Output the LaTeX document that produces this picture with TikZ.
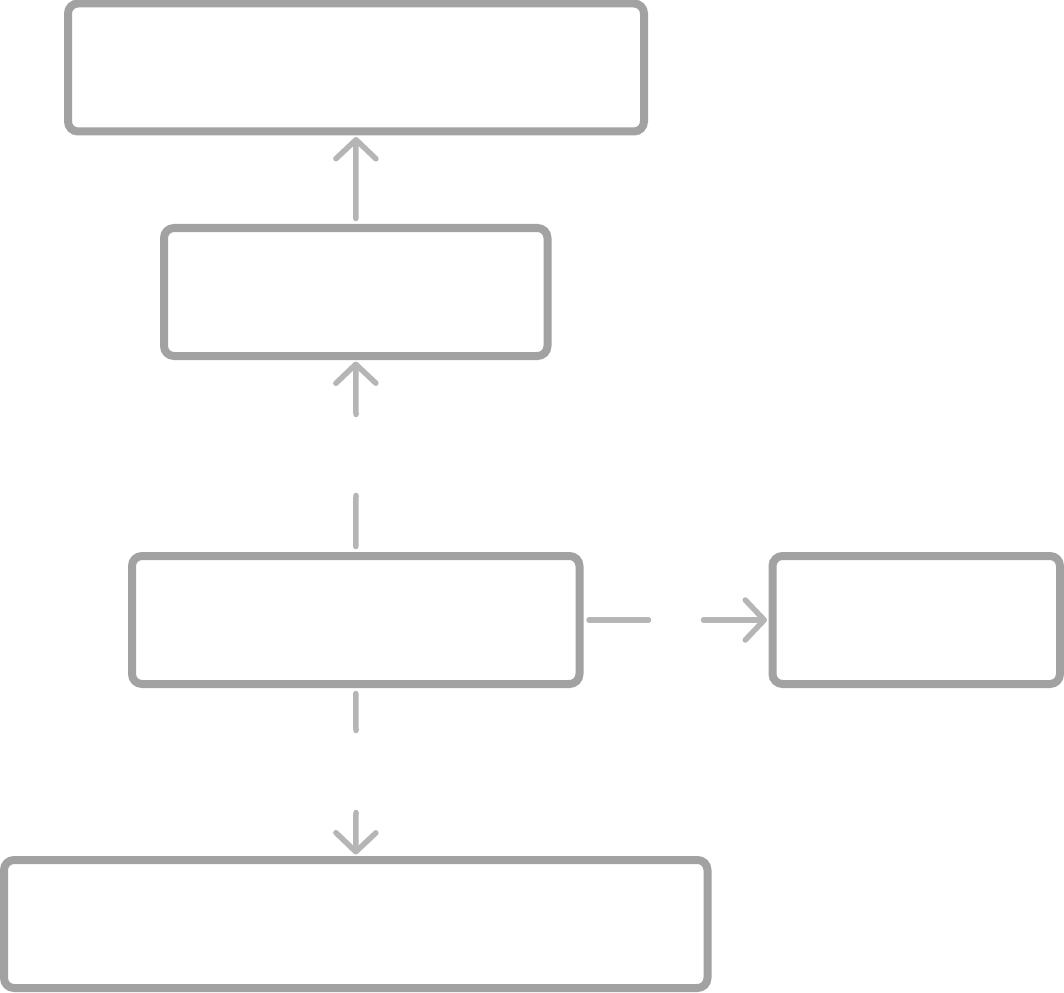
\documentclass[tikz,border=0pt]{standalone}
\usetikzlibrary{arrows.meta}
\definecolor{boxgray}{HTML}{A2A2A2}
\definecolor{linegray}{HTML}{B5B5B5}
\tikzset{
  box/.style={rectangle, rounded corners=10pt, draw=boxgray, line width=8pt, fill=white, inner sep=0pt, minimum height=128pt},
  conn/.style={draw=linegray, line width=5.5pt, line cap=round, shorten <=5.5pt},
  connarrow/.style={draw=linegray, line width=5.5pt, line cap=round, shorten >=1.5pt,
    -{Straight Barb[length=19pt, width=40pt, line cap=round, line join=round]}},
}
\begin{document}
\begin{tikzpicture}[x=1pt,y=-1pt]
\useasboundingbox (0,0) rectangle (1064,992);
\node[box, minimum width=576pt]   (a) at (356,67.5) {};
\node[box, minimum width=383.5pt] (b) at (355.75,292) {};
\node[box, minimum width=447.5pt] (c) at (355.75,620) {};
\node[box, minimum width=287.5pt] (d) at (916.25,620) {};
\node[box, minimum width=703.5pt] (e) at (355.75,924) {};
% gap ends
\coordinate (cb1) at (356,495.5);
\coordinate (cb2) at (356,414.5);
\coordinate (cd1) at (648.5,620);
\coordinate (cd2) at (703.5,620);
\coordinate (ce1) at (356,730.5);
\coordinate (ce2) at (356,812.5);
% B -> A
\draw[connarrow, shorten <=5.5pt] (b.north) -- (a.south);
% C -> B
\draw[conn] (c.north) -- (cb1);
\draw[connarrow] (cb2) -- (b.south);
% C -> D
\draw[conn] (c.east) -- (cd1);
\draw[connarrow] (cd2) -- (d.west);
% C -> E
\draw[conn] (c.south) -- (ce1);
\draw[connarrow] (ce2) -- (e.north);
\end{tikzpicture}
\end{document}
